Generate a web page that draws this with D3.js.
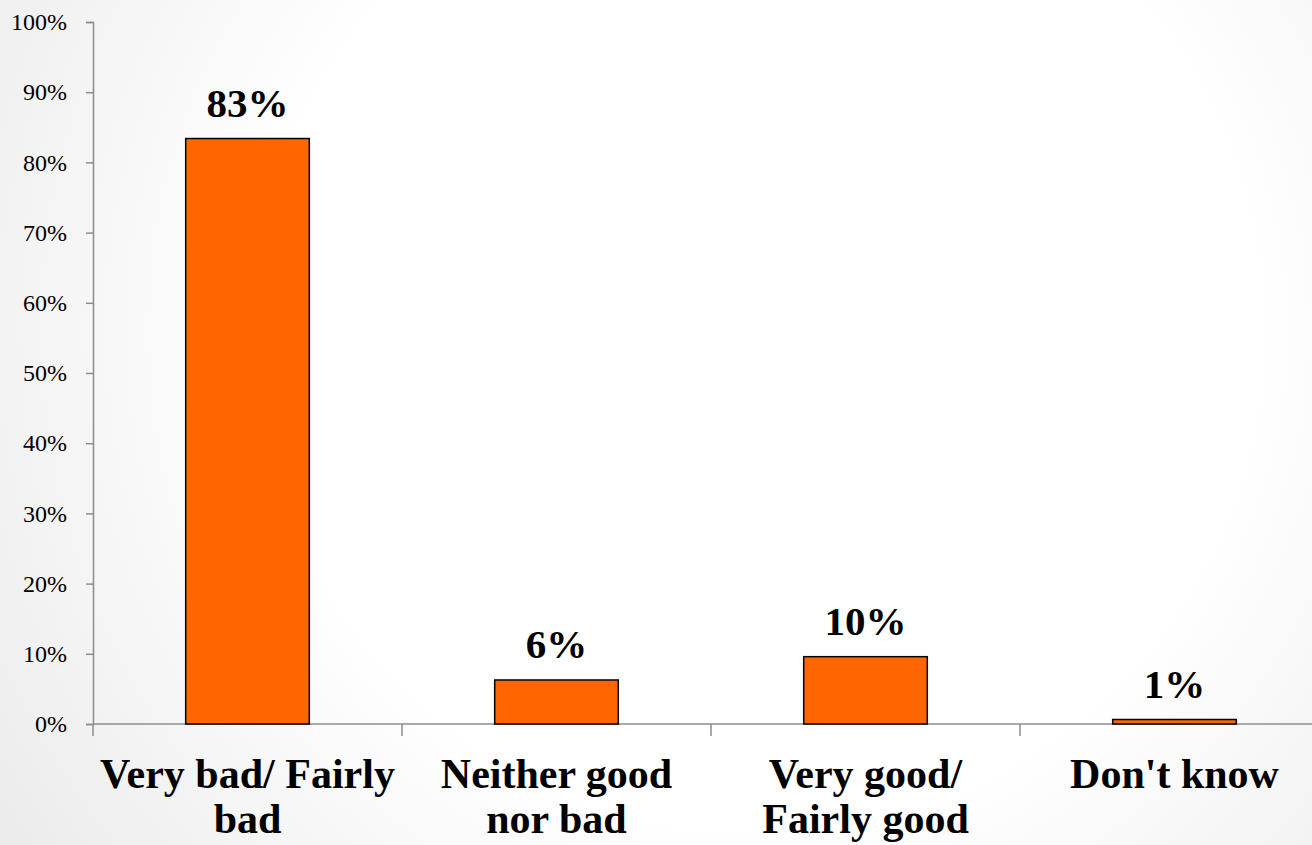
<!DOCTYPE html>
<html>
<head>
<meta charset="utf-8">
<script src="https://cdn.jsdelivr.net/npm/d3@7"></script>
<style>
  html, body { margin: 0; padding: 0; overflow: hidden; }
  svg { display: block; }
</style>
</head>
<body>
<div id="chart"></div>
<script>
// survey answers and their shares
var categories = ["Very bad/ Fairly bad", "Neither good nor bad", "Very good/ Fairly good", "Don't know"];
var categoryLines = [["Very bad/ Fairly", "bad"], ["Neither good", "nor bad"], ["Very good/", "Fairly good"], ["Don't know"]];
var values = [0.834, 0.0627, 0.0959, 0.0064];
var valueLabels = ["83%", "6%", "10%", "1%"];
var yTicks = [0, 0.1, 0.2, 0.3, 0.4, 0.5, 0.6, 0.7, 0.8, 0.9, 1];

var width = 1312, height = 845;
var margin = {top: 22, left: 93, bottom: 121};
var bandW = 309;
var serif = "'Liberation Serif', 'Times New Roman', serif";

var svg = d3.select("#chart").append("svg")
    .attr("width", width).attr("height", height);

// soft slide background
var defs = svg.append("defs");
var grad = defs.append("radialGradient").attr("id", "bg")
    .attr("gradientUnits", "userSpaceOnUse")
    .attr("cx", 760).attr("cy", 330).attr("r", 900);
grad.append("stop").attr("offset", "0").attr("stop-color", "#ffffff");
grad.append("stop").attr("offset", "0.55").attr("stop-color", "#ffffff");
grad.append("stop").attr("offset", "1").attr("stop-color", "#ececec");
svg.append("rect").attr("width", width).attr("height", height).attr("fill", "url(#bg)");

var x = d3.scaleBand()
    .domain(categories)
    .range([margin.left, margin.left + bandW * categories.length])
    .paddingInner(0.6).paddingOuter(0.3);

var y = d3.scaleLinear()
    .domain([0, 1])
    .range([height - margin.bottom, margin.top]);

var y0 = y(0);

// y axis
var yAxis = svg.append("g")
    .attr("transform", "translate(" + margin.left + ",0)")
    .call(d3.axisLeft(y).tickValues(yTicks).tickFormat(d3.format(".0%")).tickSize(7).tickPadding(19));
yAxis.select(".domain").attr("stroke", "#8c8c8c").attr("stroke-width", 1.5);
yAxis.selectAll(".tick line").attr("stroke", "#8c8c8c").attr("stroke-width", 1.5);
yAxis.selectAll(".tick text")
    .attr("fill", "#000")
    .style("font-family", serif)
    .style("font-size", "24px");

// x axis line and tick marks at band edges
svg.append("line")
    .attr("x1", margin.left).attr("x2", width)
    .attr("y1", y0).attr("y2", y0)
    .attr("stroke", "#8c8c8c").attr("stroke-width", 1.5);
svg.selectAll(".xtick")
    .data(d3.range(categories.length + 1))
    .enter().append("line")
    .attr("class", "xtick")
    .attr("x1", function(i) { return margin.left + i * bandW; })
    .attr("x2", function(i) { return margin.left + i * bandW; })
    .attr("y1", y0).attr("y2", y0 + 12)
    .attr("stroke", "#8c8c8c").attr("stroke-width", 1.5);

// bars
svg.selectAll(".bar")
    .data(values)
    .enter().append("rect")
    .attr("class", "bar")
    .attr("x", function(d, i) { return x(categories[i]); })
    .attr("width", x.bandwidth())
    .attr("y", function(d) { return y(d); })
    .attr("height", function(d) { return y0 - y(d); })
    .attr("fill", "#ff6600")
    .attr("stroke", "#000")
    .attr("stroke-width", 1.5);

// value labels
svg.selectAll(".val")
    .data(values)
    .enter().append("text")
    .attr("class", "val")
    .attr("x", function(d, i) { return x(categories[i]) + x.bandwidth() / 2; })
    .attr("y", function(d) { return y(d) - 22; })
    .attr("text-anchor", "middle")
    .style("font-family", serif)
    .style("font-weight", "bold")
    .style("font-size", "41px")
    .text(function(d, i) { return valueLabels[i]; });

// category labels, two lines where the slide broke them
svg.selectAll(".cat")
    .data(categories)
    .enter().append("text")
    .attr("class", "cat")
    .attr("x", function(d) { return x(d) + x.bandwidth() / 2; })
    .attr("y", 788)
    .attr("text-anchor", "middle")
    .style("font-family", serif)
    .style("font-weight", "bold")
    .style("font-size", "42px")
    .each(function(d, i) {
      var t = d3.select(this);
      var cx = t.attr("x");
      categoryLines[i].forEach(function(line, j) {
        t.append("tspan").attr("x", cx).attr("dy", j === 0 ? 0 : 45).text(line);
      });
    });
</script>
</body>
</html>
